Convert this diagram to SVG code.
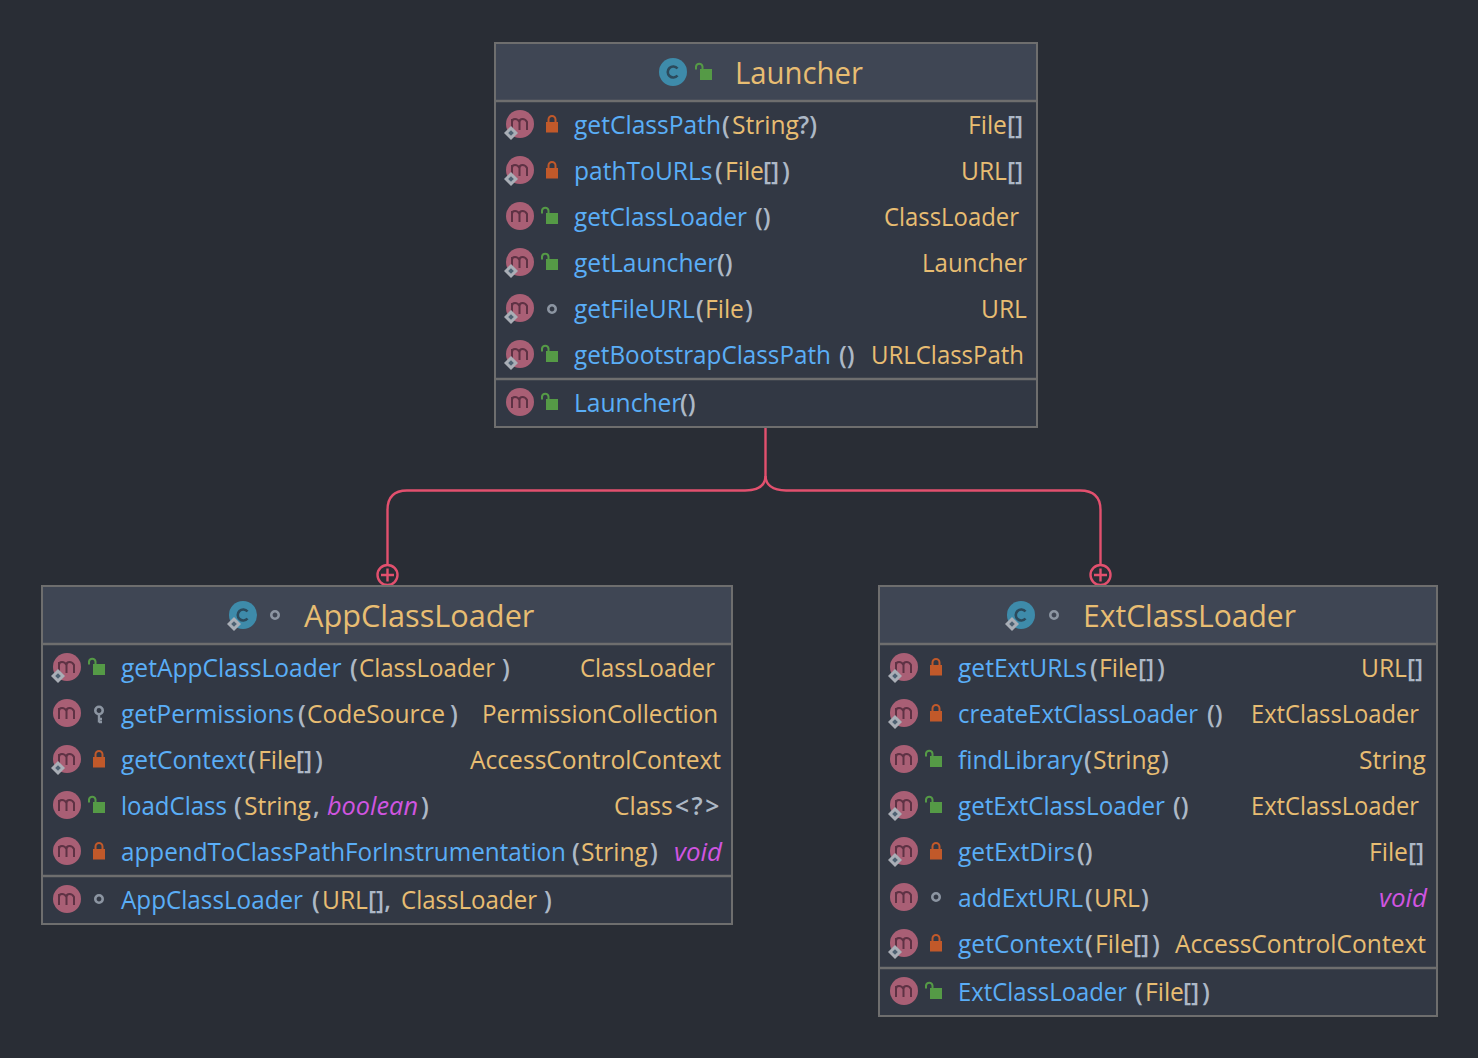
<svg xmlns="http://www.w3.org/2000/svg" width="1478" height="1058" viewBox="0 0 1478 1058">
<style>
text{font-family:"Open Sans","Noto Sans","Liberation Sans",sans-serif;font-size:24.6px;white-space:pre}
.m{fill:#5aaef7}.p{fill:#adb8c6;font-weight:600}.t{fill:#e8bd72}.v{fill:#d055e0;font-style:italic}
.title{fill:#e8bd72;font-size:30.700px}
.box{fill:#323844;stroke:#6e6e6e;stroke-width:2}
.head{fill:#3f4654}
.sep{stroke:#6e6e6e;stroke-width:2.500;fill:none}
.conn{fill:none;stroke:#e2506e;stroke-width:2.400}
</style>
<defs>
<g id="mi"><circle r="14" fill="#a95f75"/><path d="M-8 6V-5M-8-2Q-8-5-5-5T-.5-2V6M-.5-2Q-.5-5 2.500-5T7-2V6" fill="none" stroke="#5e3244" stroke-width="2"/></g>
<g id="ci"><circle r="14" fill="#3e8baa"/><path d="M4.500-3.500A5.500 5.500 0 1 0 4.500 3.500" fill="none" stroke="#2c4a5c" stroke-width="2.600"/></g>
<g id="dia"><path d="M0-7 7 0 0 7-7 0Z" fill="#a9aeb6"/><path d="M0-2.800 2.800 0 0 2.800-2.800 0Z" fill="#4e6172"/></g>
<g id="pri"><rect x="-6" y="-3" width="12" height="10.500" fill="#c1592a"/><path d="M-3.500-3V-5.500A3.500 3.500 0 0 1 3.500-5.500V-3" fill="none" stroke="#c1592a" stroke-width="2"/></g>
<g id="pub"><rect x="-6" y="-4" width="12" height="11" fill="#559a46"/><path d="M-3.500-4V-6.500A3.300 3.300 0 0 0-10-6.500V-3.500" fill="none" stroke="#559a46" stroke-width="2"/></g>
<g id="pkg"><circle r="3.700" fill="none" stroke="#8c95a2" stroke-width="2.600"/></g>
<g id="prot"><circle cy="-3.500" r="3.700" fill="none" stroke="#8c95a2" stroke-width="2.600"/><path d="M0 0V8.500M0 5H3M0 8H3" fill="none" stroke="#8c95a2" stroke-width="2.400"/></g>
<g id="plus"><circle r="10" class="conn"/><path d="M-6.500 0H6.500M0-6.500V6.500" class="conn"/></g>
</defs>
<rect width="1478" height="1058" fill="#292d35"/>
<g id="connectors">
<path class="conn" d="M765.500 428V476Q765.500 490 745 490.500H407Q387.500 490.500 387.500 510V565"/>
<path class="conn" d="M765.500 476Q766 490 786 490.500H1080Q1100.500 490.500 1100.500 510V565"/>
<use href="#plus" transform="translate(387.500 575)"/>
<use href="#plus" transform="translate(1100.500 575)"/>
</g>
<g id="Launcher">
<rect class="box" x="495" y="43" width="542" height="384"/>
<rect class="head" x="496" y="44" width="540" height="57"/>
<path class="sep" d="M496 101H1036M496 379H1036"/>
<use href="#ci" x="673" y="72"/><use href="#pub" x="706" y="73"/>
<text class="title" x="735" y="84" textLength="128" lengthAdjust="spacingAndGlyphs">Launcher</text>
<use href="#mi" x="520" y="124"/><use href="#dia" x="511" y="133"/><use href="#pri" x="552" y="125"/>
<text y="134"><tspan class="m" x="574">getClassPath</tspan><tspan class="p" x="722">(</tspan><tspan class="t" x="732">String</tspan><tspan class="p" x="798">?)</tspan><tspan class="t" x="968">File</tspan><tspan class="p" x="1007">[]</tspan></text>
<use href="#mi" x="520" y="170"/><use href="#dia" x="511" y="179"/><use href="#pri" x="552" y="171"/>
<text y="180"><tspan class="m" x="574">pathToURLs</tspan><tspan class="p" x="715">(</tspan><tspan class="t" x="725">File</tspan><tspan class="p" x="763">[]</tspan><tspan class="p" x="782">)</tspan><tspan class="t" x="961">URL</tspan><tspan class="p" x="1007">[]</tspan></text>
<use href="#mi" x="520" y="216"/><use href="#pub" x="552" y="217"/>
<text y="226"><tspan class="m" x="574" textLength="173" lengthAdjust="spacingAndGlyphs">getClassLoader</tspan><tspan class="p" x="755">()</tspan><tspan class="t" x="884" textLength="135" lengthAdjust="spacingAndGlyphs">ClassLoader</tspan></text>
<use href="#mi" x="520" y="262"/><use href="#dia" x="511" y="271"/><use href="#pub" x="552" y="263"/>
<text y="272"><tspan class="m" x="574">getLauncher</tspan><tspan class="p" x="717">()</tspan><tspan class="t" x="922" textLength="105" lengthAdjust="spacingAndGlyphs">Launcher</tspan></text>
<use href="#mi" x="520" y="308"/><use href="#dia" x="511" y="317"/><use href="#pkg" x="552" y="309"/>
<text y="318"><tspan class="m" x="574">getFileURL</tspan><tspan class="p" x="696">(</tspan><tspan class="t" x="705">File</tspan><tspan class="p" x="745">)</tspan><tspan class="t" x="981">URL</tspan></text>
<use href="#mi" x="520" y="354"/><use href="#dia" x="511" y="363"/><use href="#pub" x="552" y="355"/>
<text y="364"><tspan class="m" x="574" textLength="257" lengthAdjust="spacingAndGlyphs">getBootstrapClassPath</tspan><tspan class="p" x="839">()</tspan><tspan class="t" x="871" textLength="153" lengthAdjust="spacingAndGlyphs">URLClassPath</tspan></text>
<use href="#mi" x="520" y="402"/><use href="#pub" x="552" y="403"/>
<text y="412"><tspan class="m" x="574">Launcher</tspan><tspan class="p" x="680">()</tspan></text>
</g>
<g id="AppClassLoader">
<rect class="box" x="42" y="586" width="690" height="338"/>
<rect class="head" x="43" y="587" width="688" height="57"/>
<path class="sep" d="M43 644H731M43 876H731"/>
<use href="#ci" x="243" y="615"/><use href="#dia" x="234" y="624"/><use href="#pkg" x="275" y="615"/>
<text class="title" x="304" y="627">AppClassLoader</text>
<use href="#mi" x="67" y="667"/><use href="#dia" x="58" y="676"/><use href="#pub" x="99" y="668"/>
<text y="677"><tspan class="m" x="121">getAppClassLoader</tspan><tspan class="p" x="350">(</tspan><tspan class="t" x="359" textLength="136" lengthAdjust="spacingAndGlyphs">ClassLoader</tspan><tspan class="p" x="502">)</tspan><tspan class="t" x="580" textLength="135" lengthAdjust="spacingAndGlyphs">ClassLoader</tspan></text>
<use href="#mi" x="67" y="713"/><use href="#prot" x="99" y="714"/>
<text y="723"><tspan class="m" x="121" textLength="173" lengthAdjust="spacingAndGlyphs">getPermissions</tspan><tspan class="p" x="298">(</tspan><tspan class="t" x="307">CodeSource</tspan><tspan class="p" x="450">)</tspan><tspan class="t" x="482" textLength="236" lengthAdjust="spacingAndGlyphs">PermissionCollection</tspan></text>
<use href="#mi" x="67" y="759"/><use href="#dia" x="58" y="768"/><use href="#pri" x="99" y="760"/>
<text y="769"><tspan class="m" x="121">getContext</tspan><tspan class="p" x="248">(</tspan><tspan class="t" x="258">File</tspan><tspan class="p" x="296">[]</tspan><tspan class="p" x="315">)</tspan><tspan class="t" x="470">AccessControlContext</tspan></text>
<use href="#mi" x="67" y="805"/><use href="#pub" x="99" y="806"/>
<text y="815"><tspan class="m" x="121" textLength="106" lengthAdjust="spacingAndGlyphs">loadClass</tspan><tspan class="p" x="234">(</tspan><tspan class="t" x="244">String</tspan><tspan class="p" x="313">,</tspan><tspan class="v" x="327" textLength="91" lengthAdjust="spacingAndGlyphs">boolean</tspan><tspan class="p" x="421">)</tspan><tspan class="t" x="614">Class</tspan><tspan class="p" x="675" style="letter-spacing:2.500px">&lt;?&gt;</tspan></text>
<use href="#mi" x="67" y="851"/><use href="#pri" x="99" y="852"/>
<text y="861"><tspan class="m" x="121" textLength="445" lengthAdjust="spacingAndGlyphs">appendToClassPathForInstrumentation</tspan><tspan class="p" x="572">(</tspan><tspan class="t" x="581">String</tspan><tspan class="p" x="650">)</tspan><tspan class="v" x="674" textLength="48" lengthAdjust="spacingAndGlyphs">void</tspan></text>
<use href="#mi" x="67" y="899"/><use href="#pkg" x="99" y="899"/>
<text y="909"><tspan class="m" x="121" textLength="182" lengthAdjust="spacingAndGlyphs">AppClassLoader</tspan><tspan class="p" x="312">(</tspan><tspan class="t" x="322">URL</tspan><tspan class="p" x="368">[],</tspan><tspan class="t" x="401" textLength="136" lengthAdjust="spacingAndGlyphs">ClassLoader</tspan><tspan class="p" x="544">)</tspan></text>
</g>
<g id="ExtClassLoader">
<rect class="box" x="879" y="586" width="558" height="430"/>
<rect class="head" x="880" y="587" width="556" height="57"/>
<path class="sep" d="M880 644H1436M880 968H1436"/>
<use href="#ci" x="1021" y="615"/><use href="#dia" x="1012" y="624"/><use href="#pkg" x="1054" y="615"/>
<text class="title" x="1083" y="627" textLength="213" lengthAdjust="spacingAndGlyphs">ExtClassLoader</text>
<use href="#mi" x="904" y="667"/><use href="#dia" x="895" y="676"/><use href="#pri" x="936" y="668"/>
<text y="677"><tspan class="m" x="958">getExtURLs</tspan><tspan class="p" x="1090">(</tspan><tspan class="t" x="1099">File</tspan><tspan class="p" x="1138">[]</tspan><tspan class="p" x="1157">)</tspan><tspan class="t" x="1361">URL</tspan><tspan class="p" x="1407">[]</tspan></text>
<use href="#mi" x="904" y="713"/><use href="#dia" x="895" y="722"/><use href="#pri" x="936" y="714"/>
<text y="723"><tspan class="m" x="958" textLength="240" lengthAdjust="spacingAndGlyphs">createExtClassLoader</tspan><tspan class="p" x="1207">()</tspan><tspan class="t" x="1251" textLength="168" lengthAdjust="spacingAndGlyphs">ExtClassLoader</tspan></text>
<use href="#mi" x="904" y="759"/><use href="#pub" x="936" y="760"/>
<text y="769"><tspan class="m" x="958">findLibrary</tspan><tspan class="p" x="1084">(</tspan><tspan class="t" x="1093">String</tspan><tspan class="p" x="1161">)</tspan><tspan class="t" x="1359">String</tspan></text>
<use href="#mi" x="904" y="805"/><use href="#dia" x="895" y="814"/><use href="#pub" x="936" y="806"/>
<text y="815"><tspan class="m" x="958" textLength="207" lengthAdjust="spacingAndGlyphs">getExtClassLoader</tspan><tspan class="p" x="1173">()</tspan><tspan class="t" x="1251" textLength="168" lengthAdjust="spacingAndGlyphs">ExtClassLoader</tspan></text>
<use href="#mi" x="904" y="851"/><use href="#dia" x="895" y="860"/><use href="#pri" x="936" y="852"/>
<text y="861"><tspan class="m" x="958">getExtDirs</tspan><tspan class="p" x="1077">()</tspan><tspan class="t" x="1369">File</tspan><tspan class="p" x="1408">[]</tspan></text>
<use href="#mi" x="904" y="897"/><use href="#pkg" x="936" y="897"/>
<text y="907"><tspan class="m" x="958">addExtURL</tspan><tspan class="p" x="1085">(</tspan><tspan class="t" x="1094">URL</tspan><tspan class="p" x="1141">)</tspan><tspan class="v" x="1379" textLength="48" lengthAdjust="spacingAndGlyphs">void</tspan></text>
<use href="#mi" x="904" y="943"/><use href="#dia" x="895" y="952"/><use href="#pri" x="936" y="944"/>
<text y="953"><tspan class="m" x="958">getContext</tspan><tspan class="p" x="1085">(</tspan><tspan class="t" x="1095">File</tspan><tspan class="p" x="1133">[]</tspan><tspan class="p" x="1152">)</tspan><tspan class="t" x="1175">AccessControlContext</tspan></text>
<use href="#mi" x="904" y="991"/><use href="#pub" x="936" y="992"/>
<text y="1001"><tspan class="m" x="958" textLength="169" lengthAdjust="spacingAndGlyphs">ExtClassLoader</tspan><tspan class="p" x="1135">(</tspan><tspan class="t" x="1145">File</tspan><tspan class="p" x="1183">[]</tspan><tspan class="p" x="1202">)</tspan></text>
</g>
</svg>
